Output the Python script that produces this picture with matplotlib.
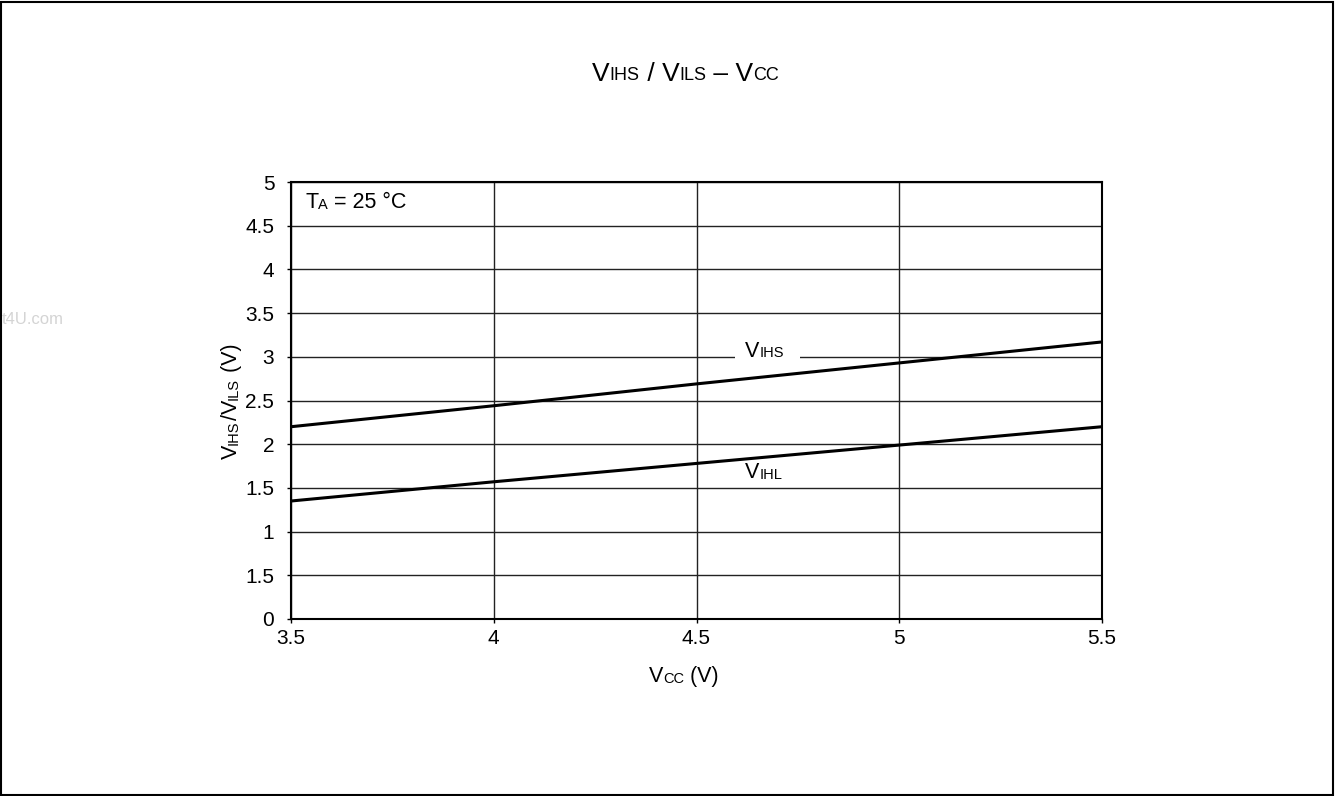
import numpy as np
import matplotlib
matplotlib.use('Agg')
import matplotlib.pyplot as plt
from matplotlib.patches import Rectangle

plt.rcParams['font.family'] = ['Liberation Sans', 'DejaVu Sans']

# data
vcc = [3.5, 4.0, 4.5, 5.0, 5.5]
vihs = [2.20, 2.44, 2.69, 2.93, 3.17]
vihl = [1.35, 1.57, 1.78, 1.99, 2.20]
x_ticks = [3.5, 4.0, 4.5, 5.0, 5.5]
x_tick_labels = ['3.5', '4', '4.5', '5', '5.5']
y_ticks = [0, 0.5, 1, 1.5, 2, 2.5, 3, 3.5, 4, 4.5, 5]
y_tick_labels = ['0', '1.5', '1', '1.5', '2', '2.5', '3', '3.5', '4', '4.5', '5']

DESC = 0.21  # descent fraction of em for Liberation Sans


def rich(first_xy, pieces, coords, rotation=0, color='black'):
    """Chain text pieces of different sizes along a shared baseline."""
    txt, size = pieces[0]
    if rotation == 0:
        prev = plt.gca().annotate(txt, xy=first_xy, xycoords=coords, fontsize=size,
                                  ha='left', va='bottom', color=color, zorder=5)
    else:
        prev = plt.gca().annotate(txt, xy=first_xy, xycoords=coords, fontsize=size,
                                  ha='right', va='bottom', rotation=90, color=color, zorder=5)
    prev_size = size
    for txt, size in pieces[1:]:
        shift = (prev_size - size) * DESC
        if rotation == 0:
            prev = plt.gca().annotate(txt, xy=(1, 0), xycoords=prev, fontsize=size,
                                      xytext=(0, shift), textcoords='offset points',
                                      ha='left', va='bottom', color=color, zorder=5)
        else:
            prev = plt.gca().annotate(txt, xy=(1, 1), xycoords=prev, fontsize=size,
                                      xytext=(-shift, 0), textcoords='offset points',
                                      ha='right', va='bottom', rotation=90, color=color, zorder=5)
        prev_size = size
    return prev


fig = plt.figure(figsize=(13.35, 7.96), dpi=100)
ax = fig.add_axes([291 / 1335, 1 - 619 / 796, (1102 - 291) / 1335, (619 - 182) / 796])

ax.plot(vcc, vihs, color='black', linewidth=2.2, zorder=3)
ax.plot(vcc, vihl, color='black', linewidth=2.2, zorder=3)

ax.set_xlim(3.5, 5.5)
ax.set_ylim(0, 5)
ax.set_xticks(x_ticks)
ax.set_xticklabels(x_tick_labels)
ax.set_yticks(y_ticks)
ax.set_yticklabels(y_tick_labels)
ax.tick_params(axis='both', length=3, width=1, direction='out', labelsize=15, colors='black')
ax.tick_params(axis='y', pad=9)
ax.tick_params(axis='x', pad=4)
ax.grid(True, color='#222222', linewidth=1.0)
ax.set_axisbelow(True)
for s in ax.spines.values():
    s.set_color('black')
    s.set_linewidth(1.5)

# gap in the 3.0 gridline behind the VIHS label
ax.add_patch(Rectangle((4.595, 2.96), 0.16, 0.08, facecolor='white', edgecolor='none', zorder=1))

plt.sca(ax)
rich((4.62, 2.945), [('V', 15.5), ('IHS', 10.5)], 'data')
rich((4.62, 1.555), [('V', 15.5), ('IHL', 10.5)], 'data')
rich((3.535, 4.645), [('T', 15.5), ('A', 10.5), (' = 25 °C', 15.5)], 'data')

# axis labels
rich((649 / 1335, 1 - 687 / 796), [('V', 15.5), ('CC', 10.5), (' (V)', 15.5)], 'figure fraction')
rich((242 / 1335, 1 - 459 / 796), [('V', 15.5), ('IHS', 10.5), ('/V', 15.5), ('ILS', 10.5), (' (V)', 15.5)],
     'figure fraction', rotation=90)

# title
rich((592 / 1335, 1 - 86 / 796), [('V', 19), ('IHS', 13), (' / V', 19), ('ILS', 13),
                                    (' – V', 19), ('CC', 13)], 'figure fraction')

# watermark fragment at left edge
fig.text(2 / 1335, 1 - 327 / 796, 't4U.com', fontsize=12, color='#d4d4d4', ha='left', va='bottom')

# border
fig.patches.append(Rectangle((1 / 1335, 1 / 796), 1332 / 1335, 793 / 796, fill=False,
                             transform=fig.transFigure, edgecolor='black', linewidth=1.5))

fig.savefig('out.png', dpi=100, facecolor='white')
